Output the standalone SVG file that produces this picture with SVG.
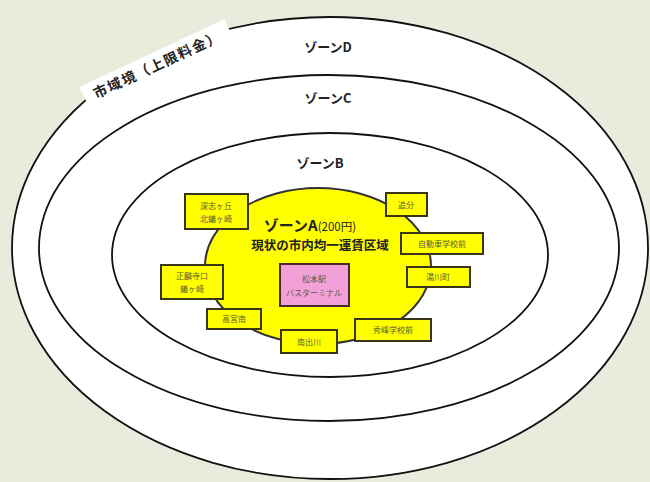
<svg xmlns="http://www.w3.org/2000/svg" width="650" height="482" viewBox="0 0 650 482">
<style>
.ring{fill:#fff;stroke:#111;stroke-width:1.8}
.zone{font-family:"Noto Sans CJK JP","Noto Sans",sans-serif;font-size:13px;font-weight:bold;fill:#222;text-anchor:middle}
.box{fill:#ffff00;stroke:#3a3418;stroke-width:2}
.lbl{font-family:"Noto Sans CJK JP","Noto Sans",sans-serif;font-size:8px;fill:#5a5a3a;text-anchor:middle}
</style>
<rect x="0" y="0" width="650" height="482" fill="#e8ecdc"/>
<g id="zoneD"><ellipse class="ring" cx="330" cy="248" rx="318" ry="231"/><text class="zone" x="328" y="52">ゾーンD</text></g>
<g id="border-label" transform="translate(157,64) rotate(-25)">
<rect x="-80" y="-12" width="160" height="25" fill="#fff"/>
<text x="0" y="6" font-family="'Noto Sans CJK JP','Noto Sans',sans-serif" font-size="14" font-weight="bold" fill="#222" text-anchor="middle" letter-spacing="1.5">市域境（上限料金）</text>
</g>
<g id="zoneC"><ellipse class="ring" cx="329" cy="248" rx="290" ry="173"/><text class="zone" x="328" y="103">ゾーンC</text></g>
<g id="zoneB"><ellipse class="ring" cx="330" cy="255" rx="218" ry="122"/><text class="zone" x="320" y="168">ゾーンB</text></g>
<g id="zoneA">
<ellipse cx="318" cy="266" rx="113" ry="78" fill="#ffff00" stroke="#333" stroke-width="2"/>
<text x="310" y="231" font-family="'Noto Sans CJK JP','Noto Sans',sans-serif" font-weight="bold" fill="#222" text-anchor="middle"><tspan font-size="15">ゾーンA</tspan><tspan font-size="11.5" font-weight="normal">(200円)</tspan></text>
<text x="320" y="250" font-family="'Noto Sans CJK JP','Noto Sans',sans-serif" font-size="12.5" font-weight="bold" fill="#222" text-anchor="middle">現状の市内均一運賃区域</text>
</g>
<g id="connectors"></g>
<g id="terminal"><rect x="280" y="264" width="69" height="42" fill="#f2a0d8" stroke="#4a2a2a" stroke-width="2"/><text class="lbl" x="314" y="282" fill="#6a4a5a">松本駅</text><text class="lbl" x="314" y="296" fill="#6a4a5a">バスターミナル</text></g>
<g id="n1"><rect class="box" x="185" y="194" width="63" height="35"/><text class="lbl" x="216" y="209">深志ヶ丘</text><text class="lbl" x="216" y="222">北蟻ヶ崎</text></g>
<g id="n2"><rect class="box" x="386" y="193" width="41" height="23"/><text class="lbl" x="406" y="208">追分</text></g>
<g id="n3"><rect class="box" x="401" y="233" width="82" height="21"/><text class="lbl" x="442" y="247">自動車学校前</text></g>
<g id="n4"><rect class="box" x="407" y="267" width="63" height="20"/><text class="lbl" x="438" y="280">湯川町</text></g>
<g id="n5"><rect class="box" x="355" y="319" width="76" height="22"/><text class="lbl" x="393" y="333">秀峰学校前</text></g>
<g id="n6"><rect class="box" x="281" y="330" width="56" height="23"/><text class="lbl" x="309" y="345">南出川</text></g>
<g id="n7"><rect class="box" x="207" y="309" width="54" height="20"/><text class="lbl" x="234" y="322">高宮南</text></g>
<g id="n8"><rect class="box" x="161" y="265" width="62" height="34"/><text class="lbl" x="192" y="279">正麟寺口</text><text class="lbl" x="192" y="292">蟻ヶ崎</text></g>
</svg>
